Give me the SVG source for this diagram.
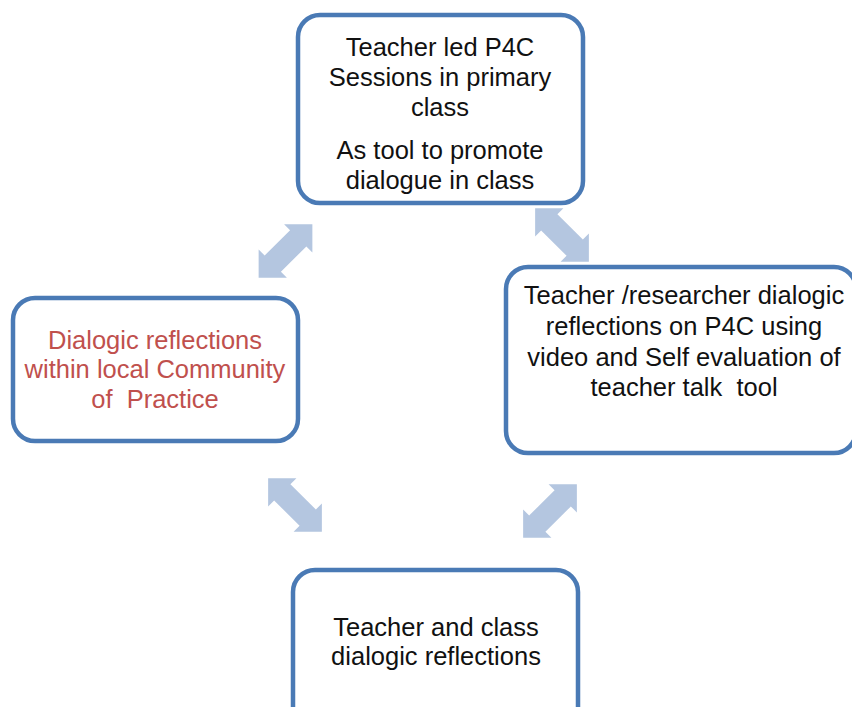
<svg xmlns="http://www.w3.org/2000/svg" width="852" height="707" viewBox="0 0 852 707">
<style>
.box{fill:#fff;stroke:#4A7AB5;stroke-width:4.5}
.t{font-family:"Liberation Sans",Arial,sans-serif;font-size:25.5px;fill:#111;text-anchor:middle}
.red{fill:#C0504D}
.arr{fill:#B4C6E0}
</style>
<defs>
<polygon id="dbl" points="-38,0 -18,-20 -18,-11.5 18,-11.5 18,-20 38,0 18,20 18,11.5 -18,11.5 -18,20"/>
</defs>
<rect width="852" height="707" fill="#fff"/>
<g id="connectors">
<use href="#dbl" class="arr" transform="translate(285.5,251) rotate(-45)"/>
<use href="#dbl" class="arr" transform="translate(562,235) rotate(45)"/>
<use href="#dbl" class="arr" transform="translate(295,505) rotate(45)"/>
<use href="#dbl" class="arr" transform="translate(550,511) rotate(-45)"/>
</g>
<g id="node-top">
<rect class="box" x="298" y="15" width="285" height="188" rx="22"/>
<text class="t" x="440" y="56">Teacher led P4C</text>
<text class="t" x="440" y="86">Sessions in primary</text>
<text class="t" x="440" y="116">class</text>
<text class="t" x="440" y="159">As tool to promote</text>
<text class="t" x="440" y="189">dialogue in class</text>
</g>
<g id="node-right">
<rect class="box" x="506" y="267" width="350" height="186" rx="22"/>
<text class="t" x="684" y="304">Teacher /researcher dialogic</text>
<text class="t" x="684" y="335">reflections on P4C using</text>
<text class="t" x="684" y="366">video and Self evaluation of</text>
<text class="t" x="684" y="396" xml:space="preserve">teacher talk  tool</text>
</g>
<g id="node-left">
<rect class="box" x="13" y="298" width="285" height="143" rx="22"/>
<text class="t red" x="155" y="349">Dialogic reflections</text>
<text class="t red" x="155" y="378">within local Community</text>
<text class="t red" x="155" y="408" xml:space="preserve">of  Practice</text>
</g>
<g id="node-bottom">
<rect class="box" x="293" y="570" width="285" height="160" rx="22"/>
<text class="t" x="436" y="636">Teacher and class</text>
<text class="t" x="436" y="665">dialogic reflections</text>
</g>
</svg>
